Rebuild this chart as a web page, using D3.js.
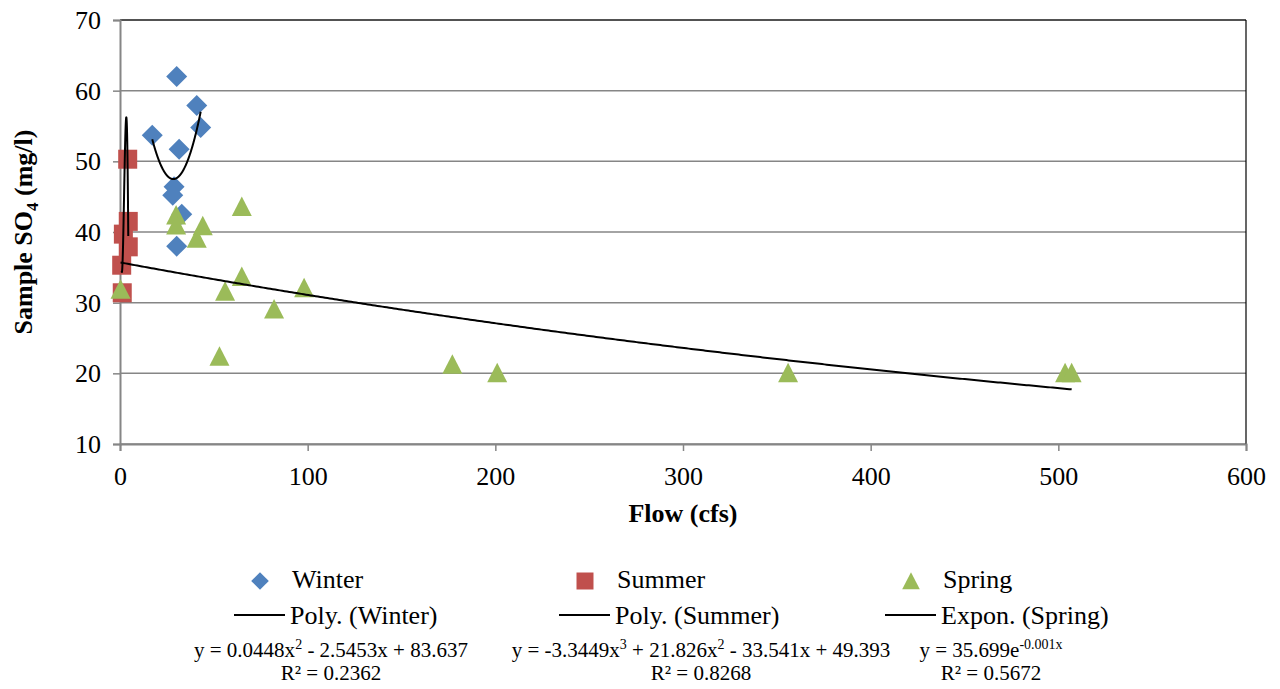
<!DOCTYPE html>
<html>
<head>
<meta charset="utf-8">
<script src="https://cdn.jsdelivr.net/npm/d3@7"></script>
<style>
  html, body { margin: 0; padding: 0; background: #fff; }
  svg { display: block; }
  svg text { font-family: "Times New Roman", Times, "Liberation Serif", "DejaVu Serif", "Noto Serif", serif; }
</style>
</head>
<body>
<svg id="chart" width="1280" height="689"></svg>
<script>
// ---------- data ----------
const winterFlow = [30.2, 40.9, 43.0, 17.2, 31.5, 28.8, 28.1, 32.9, 30.2];
const winterSO4  = [62.0, 57.9, 54.8, 53.7, 51.7, 46.4, 45.2, 42.5, 38.0];

const summerFlow = [4.1, 4.4, 1.8, 4.4, 0.9, 1.2];
const summerSO4  = [50.3, 41.5, 39.7, 37.9, 35.3, 31.4];

const springFlow = [0.3, 29.9, 29.9, 44.1, 40.9, 64.9, 64.9, 56.0, 98.1, 82.1, 53.0, 177.1, 201.0, 356.0, 503.6, 507.1];
const springSO4  = [31.9, 42.4, 41.0, 40.9, 39.1, 43.6, 33.7, 31.6, 32.1, 29.1, 22.4, 21.3, 20.1, 20.1, 20.1, 20.1];

// trendline coefficients (as shown in the chart's equations)
const winterPoly = [83.637, -2.5453, 0.0448];            // c0 + c1 x + c2 x^2
const summerPoly = [49.393, -33.541, 21.826, -3.3449];   // c0 + c1 x + c2 x^2 + c3 x^3
const springExp  = { a: 35.699, b: -0.00138 };           // a * e^(b x)  (label rounds b to -0.001)

const xTicks = [0, 100, 200, 300, 400, 500, 600];
const yTicks = [10, 20, 30, 40, 50, 60, 70];

const seriesNames = ["Winter", "Summer", "Spring"];
const trendNames  = ["Poly. (Winter)", "Poly. (Summer)", "Expon. (Spring)"];
const colors = ["#4F81BD", "#C0504D", "#9BBB59"];

// ---------- layout ----------
const FONT = '"Times New Roman", Times, "Liberation Serif", "DejaVu Serif", "Noto Serif", serif';
const svg = d3.select("#chart");
const x = d3.scaleLinear().domain([0, 600]).range([120, 1246]);
const y = d3.scaleLinear().domain([10, 70]).range([444, 20]);
const gridColor = "#868686";

// gridlines
svg.append("g").selectAll("line").data(yTicks).join("line")
  .attr("x1", x(0)).attr("x2", x(600))
  .attr("y1", d => y(d)).attr("y2", d => y(d))
  .attr("stroke", gridColor).attr("stroke-width", 1.5);

// plot border top/right
svg.append("line").attr("x1", x(0)).attr("x2", x(600)).attr("y1", y(70)).attr("y2", y(70))
  .attr("stroke", "#000").attr("stroke-width", 1.2);
svg.append("line").attr("x1", x(600)).attr("x2", x(600)).attr("y1", y(70)).attr("y2", y(10))
  .attr("stroke", "#000").attr("stroke-width", 1.2);

// axes
const yAxis = d3.axisLeft(y).tickValues(yTicks).tickSize(7).tickPadding(12).tickFormat(d3.format("d"));
const xAxis = d3.axisBottom(x).tickValues(xTicks).tickSize(7).tickPadding(14).tickFormat(d3.format("d"));

const gy = svg.append("g").attr("transform", `translate(${x(0)},0)`).call(yAxis);
const gx = svg.append("g").attr("transform", `translate(0,${y(10)})`).call(xAxis);
[gx, gy].forEach(g => {
  g.attr("font-family", null).attr("font-size", 26);
  g.select(".domain").attr("stroke", gridColor).attr("stroke-width", 2);
  g.selectAll(".tick line").attr("stroke", gridColor).attr("stroke-width", 1.5);
  g.selectAll(".tick text").attr("fill", "#000").style("font-family", FONT).attr("font-size", 26);
});
gy.selectAll(".tick text").attr("dy", "0.33em");
gx.selectAll(".tick text").attr("dy", "0.76em");

// axis titles
svg.append("text").attr("x", (x(0) + x(600)) / 2).attr("y", 522)
  .style("font-family", FONT)
  .attr("text-anchor", "middle").attr("font-weight", "bold").attr("font-size", 26)
  .text("Flow (cfs)");

const yt = svg.append("text")
  .style("font-family", FONT)
  .attr("transform", `translate(32,${(y(10) + y(70)) / 2}) rotate(-90)`)
  .attr("text-anchor", "middle").attr("font-weight", "bold").attr("font-size", 26);
yt.append("tspan").text("Sample SO");
yt.append("tspan").attr("font-size", 17).attr("dy", 6).text("4");
yt.append("tspan").attr("dy", -6).text(" (mg/l)");

// ---------- markers ----------
const shapes = {
  diamond: s => `M0,${-s}L${s},0L0,${s}L${-s},0Z`,
  square:  s => `M${-s},${-s}H${s}V${s}H${-s}Z`,
  triangle: s => `M0,${-s}L${s},${s * 0.95}L${-s},${s * 0.95}Z`
};

function plotSeries(xs, ys, shape, size, color) {
  svg.append("g").selectAll("path").data(xs.map((v, i) => [v, ys[i]])).join("path")
    .attr("transform", d => `translate(${x(d[0])},${y(d[1])})`)
    .attr("d", shapes[shape](size))
    .attr("fill", color);
}
plotSeries(winterFlow, winterSO4, "diamond", 10.5, colors[0]);
plotSeries(summerFlow, summerSO4, "square", 9.5, colors[1]);
plotSeries(springFlow, springSO4, "triangle", 10, colors[2]);

// ---------- trendlines ----------
function polyVal(c, v) { return c.reduce((s, k, i) => s + k * Math.pow(v, i), 0); }
function curve(fn, x0, x1) {
  const n = 400, pts = [];
  for (let i = 0; i <= n; i++) { const v = x0 + (x1 - x0) * i / n; pts.push([v, fn(v)]); }
  return pts;
}
const line = d3.line().x(d => x(d[0])).y(d => y(d[1]));
const trends = [
  curve(v => polyVal(winterPoly, v), d3.min(winterFlow), d3.max(winterFlow)),
  curve(v => polyVal(summerPoly, v), d3.min(summerFlow), d3.max(summerFlow)),
  curve(v => springExp.a * Math.exp(springExp.b * v), d3.min(springFlow), d3.max(springFlow))
];
svg.append("g").selectAll("path").data(trends).join("path")
  .attr("d", line).attr("fill", "none").attr("stroke", "#000").attr("stroke-width", 2);

// ---------- legend ----------
const legX = [260, 585, 911];
const lg = svg.append("g");
const legShapes = ["diamond", "square", "triangle"];
legX.forEach((cx, i) => {
  lg.append("path").attr("transform", `translate(${cx},581)`)
    .attr("d", shapes[legShapes[i]](i === 1 ? 8.5 : 8.8)).attr("fill", colors[i]);
  lg.append("text").style("font-family", FONT).attr("x", cx + 32).attr("y", 588).attr("font-size", 26).text(seriesNames[i]);
  lg.append("line").attr("x1", cx - 26).attr("x2", cx + 25).attr("y1", 615).attr("y2", 615)
    .attr("stroke", "#000").attr("stroke-width", 2);
  lg.append("text").style("font-family", FONT).attr("x", cx + 30).attr("y", 624).attr("font-size", 26).text(trendNames[i]);
});

// equations
const eqCenters = [331, 701, 991];
const eqParts = [
  [["y = 0.0448x"], ["2", true], [" - 2.5453x + 83.637"]],
  [["y = -3.3449x"], ["3", true], [" + 21.826x"], ["2", true], [" - 33.541x + 49.393"]],
  [["y = 35.699e"], ["-0.001x", true]]
];
const r2 = ["R² = 0.2362", "R² = 0.8268", "R² = 0.5672"];
eqParts.forEach((parts, i) => {
  const t = lg.append("text").style("font-family", FONT).attr("x", eqCenters[i]).attr("y", 657)
    .attr("text-anchor", "middle").attr("font-size", 21);
  let up = false;
  parts.forEach(p => {
    const ts = t.append("tspan").text(p[0]);
    if (p[1]) { ts.attr("font-size", 14).attr("dy", -8); up = true; }
    else if (up) { ts.attr("dy", 8); up = false; }
  });
  lg.append("text").style("font-family", FONT).attr("x", eqCenters[i]).attr("y", 680)
    .attr("text-anchor", "middle").attr("font-size", 21).text(r2[i]);
});
</script>
</body>
</html>
